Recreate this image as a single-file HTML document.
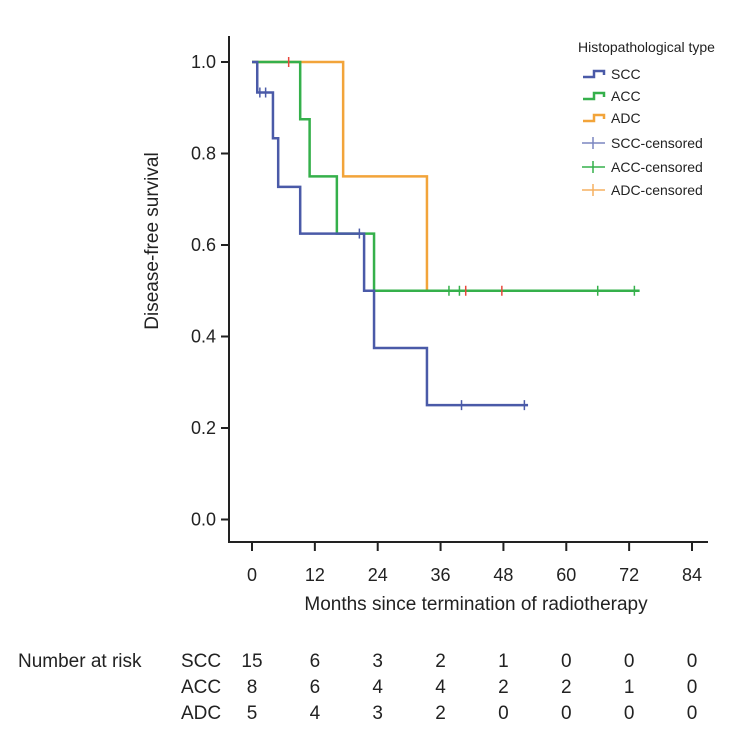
<!DOCTYPE html>
<html><head><meta charset="utf-8"><style>
body{margin:0;background:#fff;width:741px;height:738px;overflow:hidden}
svg{font-family:"Liberation Sans",sans-serif;fill:#222}
</style></head><body>
<svg id="c" width="741" height="738">
<g id="axes"></g>
<g id="curves"></g>
<g id="legend"></g>
<g id="risk"></g>
</svg>
<script>
const xTicks=[0,12,24,36,48,60,72,84];
const yTicks=[0,0.2,0.4,0.6,0.8,1.0];
const sccTimes=[0,1,4,5,9.2,21.4,23.3,33.4,52.7];
const sccSurv=[1,0.9333,0.8333,0.727,0.625,0.5,0.375,0.25,0.25];
const accTimes=[0,9.2,11,16.2,23.3,74];
const accSurv=[1,0.875,0.75,0.625,0.5,0.5];
const adcTimes=[0,17.4,33.4,48];
const adcSurv=[1,0.75,0.5,0.5];
const sccCensT=[1.5,2.6,20.5,40,52];
const sccCensS=[0.9333,0.9333,0.625,0.25,0.25];
const accCensT=[37.6,39.6,66,73];
const accCensS=[0.5,0.5,0.5,0.5];
const adcCensT=[7,40.8,47.7];
const adcCensS=[1,0.5,0.5];
const riskGroups=["SCC","ACC","ADC"];
const riskSCC=[15,6,3,2,1,0,0,0];
const riskACC=[8,6,4,4,2,2,1,0];
const riskADC=[5,4,3,2,0,0,0,0];
const NS="http://www.w3.org/2000/svg";
const X=m=>252+m*(440/84);
const Y=s=>519.5-s*457.5;
function mk(p,t,a){const e=document.createElementNS(NS,t);for(const k in a)e.setAttribute(k,a[k]);p.appendChild(e);return e;}
const ax=document.getElementById('axes');
let e=mk(ax,'path',{d:'M229,36V542H708',stroke:'#222','stroke-width':2,fill:'none'});


xTicks.forEach(t=>{
 let l=mk(ax,'line',{x1:X(t),x2:X(t),y1:542,y2:551,stroke:'#222','stroke-width':2});
 
 
 let tx=mk(ax,'text',{x:X(t),y:581,'text-anchor':'middle','font-size':18});tx.textContent=t;
 
 
});
yTicks.forEach(t=>{
 let l=mk(ax,'line',{x1:221,x2:229,y1:Y(t),y2:Y(t),stroke:'#222','stroke-width':2});
 
 
 let tx=mk(ax,'text',{x:216,y:Y(t)+6,'text-anchor':'end','font-size':18});tx.textContent=t.toFixed(1);
 
 
});
e=mk(ax,'text',{x:476,y:610,'text-anchor':'middle','font-size':19});e.textContent='Months since termination of radiotherapy';


e=mk(ax,'text',{x:0,y:0,'text-anchor':'middle','font-size':19,transform:'translate(158,241) rotate(-90)'});e.textContent='Disease-free survival';


const cv=document.getElementById('curves');
function step(ts,ss,col,name){
 let d='M'+X(ts[0])+','+Y(ss[0]);
 for(let i=1;i<ts.length;i++){d+='H'+X(ts[i])+'V'+Y(ss[i]);}
 let p=mk(cv,'path',{d:d,stroke:col,'stroke-width':2.5,fill:'none'});
 
 
}
function cens(ts,ss,col,name){
 ts.forEach((t,i)=>{let p=mk(cv,'path',{d:`M${X(t)},${Y(ss[i])-5}v10`,stroke:col,'stroke-width':1.5});
 
 });
}
step(adcTimes,adcSurv,'#f2a43a','adc-curve');
step(accTimes,accSurv,'#35b04b','acc-curve');
step(sccTimes,sccSurv,'#4a5aa8','scc-curve');
cens(sccCensT,sccCensS,'#4a5aa8','scc-censor-mark');
cens(accCensT,accCensS,'#35b04b','acc-censor-mark');
cens(adcCensT,adcCensS,'#e8473c','adc-censor-mark');
const lg=document.getElementById('legend');
e=mk(lg,'text',{x:578,y:52,'font-size':14});e.textContent='Histopathological type';


const lItems=[['SCC','#4a5aa8',0],['ACC','#35b04b',0],['ADC','#f2a43a',0],['SCC-censored','#7b86c0',1],['ACC-censored','#35b04b',1],['ADC-censored','#f5b060',1]];
const lY=[74,96,118,143,167,190];
lItems.forEach((it,i)=>{
 const y=lY[i];
 let p;
 if(!it[2]) p=mk(lg,'path',{d:`M583,${y+3}H594V${y-3}H604V${y+1}`,stroke:it[1],'stroke-width':2.5,fill:'none'});
 else p=mk(lg,'path',{d:`M582,${y}H605M593,${y-6}V${y+6}`,stroke:it[1],'stroke-width':1.5});
 
 
 let t=mk(lg,'text',{x:611,y:y+5,'font-size':14});t.textContent=it[0];
 
 
});
const rk=document.getElementById('risk');
e=mk(rk,'text',{x:18,y:667,'font-size':19});e.textContent='Number at risk';


[riskSCC,riskACC,riskADC].forEach((row,r)=>{
 const y=667+r*26;
 let g=mk(rk,'text',{x:181,y:y,'font-size':19});g.textContent=riskGroups[r];
 
 
 row.forEach((v,i)=>{let t=mk(rk,'text',{x:X(xTicks[i]),y:y,'text-anchor':'middle','font-size':19});t.textContent=v;
 
 });
});
</script>
</body></html>
